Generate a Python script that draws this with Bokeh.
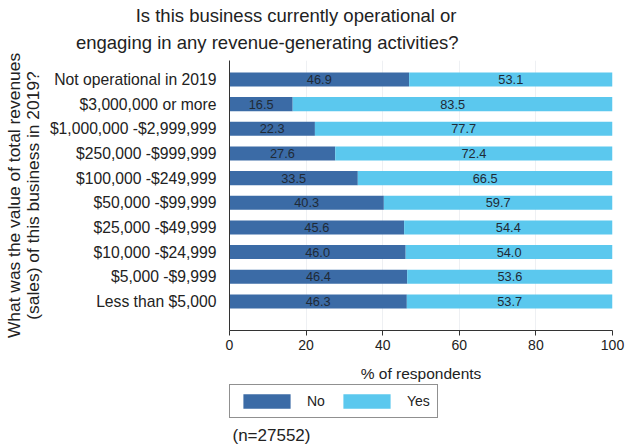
from bokeh.plotting import figure
from bokeh.models import Range1d, Title, Label, Legend, LegendItem, ColumnDataSource, FixedTicker
from bokeh.layouts import column
from bokeh.embed import file_html
from bokeh.resources import INLINE
from bokeh.core.properties import value

categories = ["Not operational in 2019", "$3,000,000 or more", "$1,000,000 -$2,999,999",
              "$250,000 -$999,999", "$100,000 -$249,999", "$50,000 -$99,999",
              "$25,000 -$49,999", "$10,000 -$24,999", "$5,000 -$9,999", "Less than $5,000"]
no_vals = [46.9, 16.5, 22.3, 27.6, 33.5, 40.3, 45.6, 46.0, 46.4, 46.3]
yes_vals = [53.1, 83.5, 77.7, 72.4, 66.5, 59.7, 54.4, 54.0, 53.6, 53.7]
x_ticks = [0, 20, 40, 60, 80, 100]
series_names = ["No", "Yes"]
title_lines = ["Is this business currently operational or",
               "engaging in any revenue-generating activities?"]
ylabel_lines = ["What was the value of total revenues",
                "(sales) of this business in 2019?"]
note = "(n=27552)"

FONT = "Liberation Sans"
DARK = "#3b6ba6"
LIGHT = "#5bc8ee"
TXT = "#222222"

n = len(categories)
ypos = [n - 1 - i for i in range(n)]
src = ColumnDataSource(dict(
    y=ypos,
    no_end=no_vals, yes_end=[a + b for a, b in zip(no_vals, yes_vals)],
    no_mid=[v / 2 for v in no_vals],
    yes_mid=[a + b / 2 for a, b in zip(no_vals, yes_vals)],
    no_txt=[f"{v:.1f}" for v in no_vals],
    yes_txt=[f"{v:.1f}" for v in yes_vals],
))

# ---------------- main chart ----------------
p = figure(width=629, height=384, output_backend="svg", toolbar_location=None,
           x_range=Range1d(0, 100), y_range=Range1d(-1.18, 9.77),
           min_border_left=228, min_border_right=17, min_border_top=60, min_border_bottom=54)
p.outline_line_color = None
p.title.visible = False

p.hbar(y="y", left=0, right="no_end", height=0.57, source=src, fill_color=DARK, line_color=None)
p.hbar(y="y", left="no_end", right="yes_end", height=0.57, source=src, fill_color=LIGHT, line_color=None)

p.text(x="no_mid", y="y", text="no_txt", source=src, text_align="center", text_baseline="middle",
       text_font=value(FONT), text_font_size="12.8px", text_color="#1f2a36")
p.text(x="yes_mid", y="y", text="yes_txt", source=src, text_align="center", text_baseline="middle",
       text_font=value(FONT), text_font_size="12.8px", text_color="#1f2a36")

p.xaxis.ticker = FixedTicker(ticks=x_ticks)
p.xaxis.major_label_text_font = FONT
p.xaxis.major_label_text_font_size = "14px"
p.xaxis.major_label_text_color = TXT
p.xaxis.axis_line_color = "#333333"
p.xaxis.major_tick_line_color = "#333333"
p.xaxis.major_tick_out = 5
p.xaxis.major_tick_in = 0
p.xaxis.minor_tick_line_color = None
p.xaxis.axis_label = "% of respondents"
p.xaxis.axis_label_text_font = FONT
p.xaxis.axis_label_text_font_size = "15.5px"
p.xaxis.axis_label_text_font_style = "normal"
p.xaxis.axis_label_text_color = TXT
p.xaxis.major_label_standoff = 4
p.xaxis.axis_label_standoff = 12

p.yaxis.ticker = FixedTicker(ticks=ypos)
p.yaxis.major_label_overrides = {y: c for y, c in zip(ypos, categories)}
p.yaxis.major_label_text_font = FONT
p.yaxis.major_label_text_font_size = "15.7px"
p.yaxis.major_label_text_color = TXT
p.yaxis.axis_line_color = "#333333"
p.yaxis.major_tick_line_color = None
p.yaxis.minor_tick_line_color = None
p.yaxis.major_label_standoff = 7
p.yaxis.axis_label = "\n".join(ylabel_lines)
p.yaxis.axis_label_text_font = FONT
p.yaxis.axis_label_text_font_size = "17.4px"
p.yaxis.axis_label_text_font_style = "normal"
p.yaxis.axis_label_text_color = TXT
p.yaxis.axis_label_text_line_height = 0.95
p.yaxis.axis_label_standoff = 4

p.xgrid.ticker = FixedTicker(ticks=[20, 40, 60, 80])
p.xgrid.grid_line_color = "#eef0f3"
p.ygrid.grid_line_color = None

# title lines (nearest to the frame first), right edges aligned as in the reference
p.add_layout(Title(text=title_lines[1], align="right", offset=154, standoff=12,
                   vertical_align="top",
                   text_font=FONT, text_font_size="18.5px", text_font_style="normal",
                   text_color=TXT), "above")
p.add_layout(Title(text=title_lines[0], align="right", offset=156, standoff=0,
                   text_font=FONT, text_font_size="18.5px", text_font_style="normal",
                   text_color=TXT), "above")

# ---------------- legend + note strip ----------------
bot = figure(width=629, height=62, output_backend="svg", toolbar_location=None,
             x_range=Range1d(0, 100), y_range=Range1d(100, 162),
             x_axis_location=None, y_axis_location=None,
             min_border_left=228, min_border_right=17, min_border_top=0, min_border_bottom=0)
bot.outline_line_color = None
bot.grid.grid_line_color = None
# same data drawn out of view; used only as legend swatches
r_no = bot.hbar(y="y", left=0, right="no_end", height=0.57, source=src, fill_color=DARK, line_color=None)
r_yes = bot.hbar(y="y", left="no_end", right="yes_end", height=0.57, source=src, fill_color=LIGHT, line_color=None)

legend = Legend(items=[LegendItem(label=series_names[0], renderers=[r_no]),
                       LegendItem(label=series_names[1], renderers=[r_yes])],
                orientation="horizontal", location=(0, 28),
                glyph_width=59, glyph_height=18, label_standoff=11, spacing=10,
                padding=7, margin=0, border_line_color=TXT, border_line_width=1,
                label_text_font=FONT, label_text_font_size="14px", label_text_color=TXT,
                label_height=18, background_fill_alpha=1)
bot.add_layout(legend, "center")
bot.add_layout(Label(x=3, y=11, x_units="screen", y_units="screen", text=note,
                     text_align="left", text_baseline="alphabetic",
                     text_font=FONT, text_font_size="17px", text_color=TXT))

layout = column(p, bot, spacing=0)
open("out.html", "w").write(file_html(layout, INLINE))
